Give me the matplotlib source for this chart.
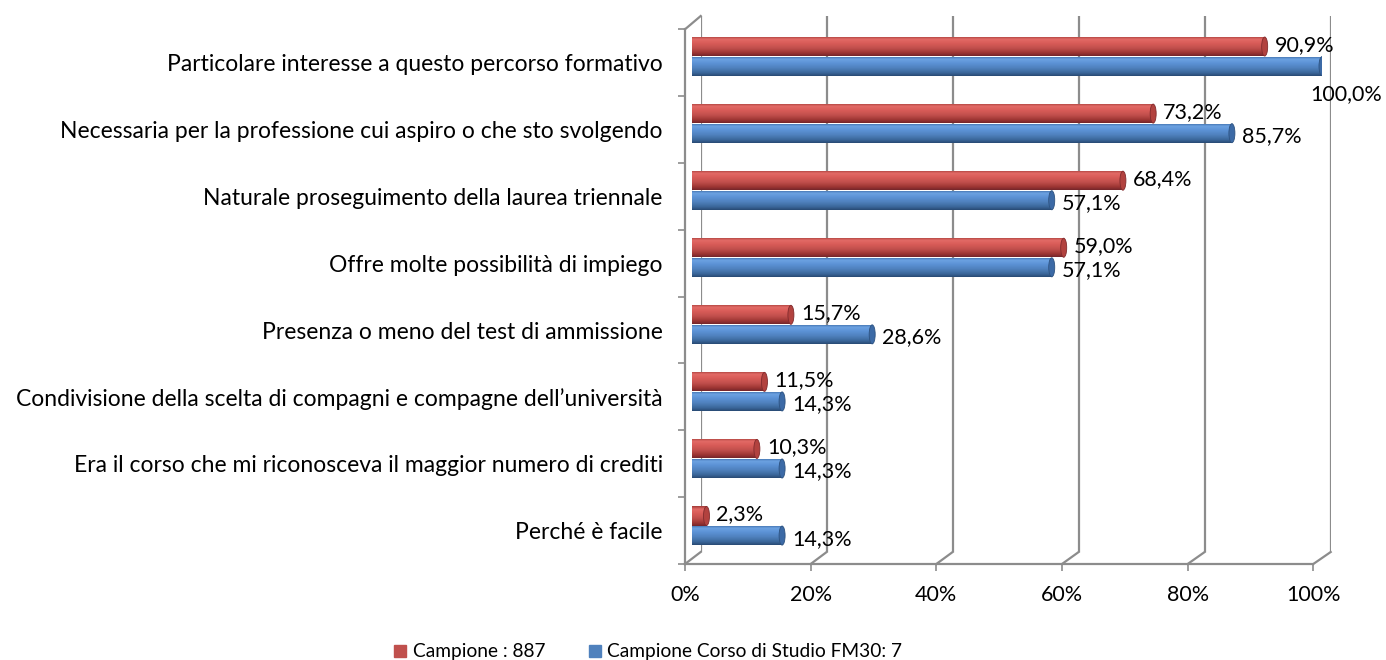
import numpy as np
import matplotlib
matplotlib.use("Agg")
import matplotlib.pyplot as plt
from matplotlib.colors import LinearSegmentedColormap
from matplotlib.patches import Ellipse, Patch
from matplotlib.lines import Line2D

# data
categories = [
    "Particolare interesse a questo percorso formativo",
    "Necessaria per la professione cui aspiro o che sto svolgendo",
    "Naturale proseguimento della laurea triennale",
    "Offre molte possibilità di impiego",
    "Presenza o meno del test di ammissione",
    "Condivisione della scelta di compagni e compagne dell\u2019università",
    "Era il corso che mi riconosceva il maggior numero di crediti",
    "Perché è facile",
]
campione = [90.9, 73.2, 68.4, 59.0, 15.7, 11.5, 10.3, 2.3]
corso = [100.0, 85.7, 57.1, 57.1, 28.6, 14.3, 14.3, 14.3]
series_names = ["Campione : 887", "Campione Corso di Studio FM30: 7"]
x_ticks = [0, 20, 40, 60, 80, 100]

plt.rcParams['font.family'] = ['Lato', 'DejaVu Sans']
FS_CAT = 16.5   # category labels
FS_NUM = 15.5   # value and tick labels
FS_LEG = 13.8
W, H = 1386, 660
GRID = "#8c8c8c"

red_cm = LinearSegmentedColormap.from_list("r", [
    (0.0, "#a23a37"), (0.15, "#e36b67"), (0.35, "#d95c58"),
    (0.6, "#c2504d"), (0.85, "#9c3533"), (1.0, "#74262a")])
blue_cm = LinearSegmentedColormap.from_list("b", [
    (0.0, "#3a68a3"), (0.15, "#6ca2e2"), (0.35, "#5c92d6"),
    (0.6, "#4f81bd"), (0.85, "#3a6699"), (1.0, "#284a74")])
cap_colors = ["#b2423f", "#3c6aa6"]


def rect(l, t, r, b):
    return [l / W, 1 - b / H, (r - l) / W, (b - t) / H]


fig = plt.figure(figsize=(W / 100, H / 100), dpi=100)

# back wall gridlines
ax_back = fig.add_axes(rect(700.7, 16, 1330.7, 552))
ax_back.set_xlim(0, 100)
ax_back.set_ylim(0, 1)
ax_back.vlines(x_ticks, 0, 1, color=GRID, lw=1.6)
ax_back.axis("off")

# front axes: ticks, labels, front edges
ax_front = fig.add_axes(rect(685, 29.3, 1313.3, 564))
ax_front.set_facecolor("none")
ax_front.set_xlim(0, 100)
ax_front.set_ylim(len(categories), 0)
for s in ["top", "right"]:
    ax_front.spines[s].set_visible(False)
for s in ["left", "bottom"]:
    ax_front.spines[s].set_color(GRID)
    ax_front.spines[s].set_linewidth(1.6)
ax_front.set_xticks(x_ticks)
ax_front.set_xticklabels([f"{t}%" for t in x_ticks], fontsize=FS_NUM)
ax_front.set_yticks(np.arange(len(categories) + 1))
ax_front.set_yticklabels([])
ax_front.set_yticks(np.arange(len(categories)) + 0.5, minor=True)
ax_front.set_yticklabels(categories, minor=True, fontsize=FS_CAT)
ax_front.tick_params(axis="x", which="major", length=5, width=1.2, color=GRID, pad=10)
ax_front.tick_params(axis="y", which="major", length=5, width=1.2, color=GRID)
ax_front.tick_params(axis="y", which="minor", length=0, pad=16)

# slanted floor / wall edges connecting back and front
to_fig = fig.transFigure.inverted()
for t in x_ticks:
    a = ax_back.transData.transform((t, 0))
    b = ax_front.transData.transform((t, len(categories)))
    pts = to_fig.transform([a, b])
    fig.add_artist(Line2D(pts[:, 0], pts[:, 1], color=GRID, lw=1.6))
a = ax_back.transData.transform((0, 1))
b = ax_front.transData.transform((0, 0))
pts = to_fig.transform([a, b])
fig.add_artist(Line2D(pts[:, 0], pts[:, 1], color=GRID, lw=1.6))

# bars
ax = fig.add_axes(rect(692, 22.8, 1322, 559.3))
ax.set_facecolor("none")
ax.axis("off")
y = np.arange(len(categories))
bh = 0.284
cap_w = 6 / 6.3
offs = [-0.146, 0.146]
grad = np.linspace(0, 1, 64).reshape(-1, 1)

for k, (vals, cm) in enumerate([(campione, red_cm), (corso, blue_cm)]):
    yy = y + offs[k]
    bars = ax.barh(yy, vals, height=bh, color="none", edgecolor="none")
    for bar, v, yc in zip(bars, vals, yy):
        y0, y1 = yc - bh / 2, yc + bh / 2
        left = Ellipse((0, yc), cap_w, bh, facecolor="none", edgecolor="none")
        ax.add_patch(left)
        im = ax.imshow(grad, cmap=cm, extent=[-cap_w / 2, v, y1, y0],
                       aspect="auto", zorder=2, interpolation="bilinear")
        im.set_clip_path(bar)
        im2 = ax.imshow(grad, cmap=cm, extent=[-cap_w / 2, cap_w / 2, y1, y0],
                        aspect="auto", zorder=2, interpolation="bilinear")
        im2.set_clip_path(left)
        ax.add_patch(Ellipse((v, yc), cap_w, bh, facecolor=cap_colors[k],
                             edgecolor=cm(0.95), lw=0.6, zorder=3))
        txt = f"{v:.1f}".replace(".", ",") + "%"
        if k == 0:
            off = (7.2, 1.4)
        elif v >= 99.9:
            off = (-8.6, -20)
        else:
            off = (7.2, -2.2)
        ax.annotate(txt, (v, yc), xytext=off, textcoords="offset points",
                    ha="left", va="center", fontsize=FS_NUM, annotation_clip=False)

ax.set_xlim(0, 100)
ax.set_ylim(len(categories) - 0.5, -0.5)

handles = [Patch(color="#c0504d"), Patch(color="#4f81bd")]
fig.legend(handles, series_names, loc="center", bbox_to_anchor=(648.4 / W, 1 - 652 / H),
           ncol=2, frameon=False, fontsize=FS_LEG, handlelength=0.6, handleheight=0.6,
           handletextpad=0.35, columnspacing=2.3, borderpad=0)

fig.savefig("out.png", dpi=100)
